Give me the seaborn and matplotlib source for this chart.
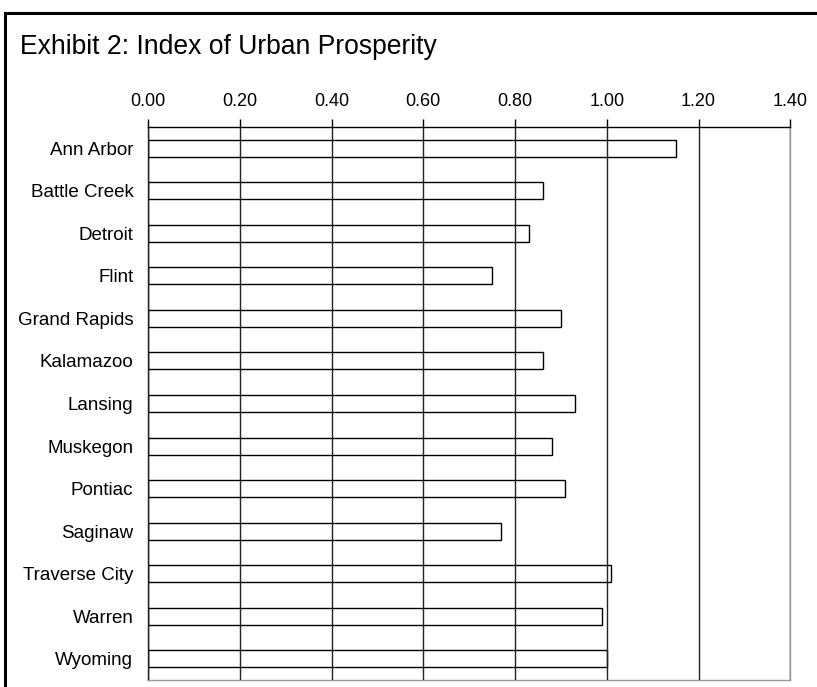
import matplotlib

matplotlib.use("Agg")

import matplotlib.pyplot as plt
import matplotlib.patches as patches
import numpy as np
import seaborn as sns

# values
CITIES = [
    "Ann Arbor",
    "Battle Creek",
    "Detroit",
    "Flint",
    "Grand Rapids",
    "Kalamazoo",
    "Lansing",
    "Muskegon",
    "Pontiac",
    "Saginaw",
    "Traverse City",
    "Warren",
    "Wyoming",
]
INDEX_VALUES = [1.15, 0.86, 0.83, 0.75, 0.90, 0.86, 0.93, 0.88, 0.91, 0.77, 1.01, 0.99, 1.00]
X_TICKS = [0.0, 0.2, 0.4, 0.6, 0.8, 1.0, 1.2, 1.4]
TITLE = "Exhibit 2: Index of Urban Prosperity"

sns.set_style("white")
plt.rcParams["font.family"] = ["Liberation Sans", "DejaVu Sans"]
plt.rcParams["text.color"] = "black"
plt.rcParams["xtick.color"] = "black"
plt.rcParams["ytick.color"] = "black"

fig = plt.figure(figsize=(8.17, 6.87), dpi=100)
ax = fig.add_axes([148 / 817, 1 - 680 / 687, (790.3 - 148) / 817, (680 - 127) / 687])

sns.barplot(
    x=INDEX_VALUES,
    y=CITIES,
    orient="h",
    color="white",
    saturation=1,
    edgecolor="black",
    linewidth=1,
    width=0.4,
    ax=ax,
)

ax.set_xlim(0, 1.4)
ax.set_ylim(len(CITIES) - 0.5, -0.5)

# x axis on top, gridlines drawn over the bars
ax.xaxis.tick_top()
ax.set_xticks(X_TICKS)
ax.set_xticklabels([f"{t:.2f}" for t in X_TICKS], fontsize=13)
ax.tick_params(axis="x", which="major", direction="out", length=6, width=1,
               color="black", labelcolor="black", pad=6.5)
ax.xaxis.grid(True, color="#222222", linewidth=1)
ax.yaxis.grid(False)
ax.set_axisbelow(False)

# category ticks sit between bars
ax.set_yticks(np.arange(-0.5, len(CITIES), 1), minor=True)
ax.tick_params(axis="y", which="minor", direction="out", length=7, width=1, color="black")
ax.tick_params(axis="y", which="major", length=0, pad=10.5, labelsize=13.5,
               labelcolor="black")
ax.set_xlabel("")
ax.set_ylabel("")

for side in ["top", "left"]:
    ax.spines[side].set_color("black")
    ax.spines[side].set_linewidth(1)
for side in ["right", "bottom"]:
    ax.spines[side].set_color("#999999")
    ax.spines[side].set_linewidth(1)

fig.text(20 / 817, 1 - 47 / 687, TITLE, fontsize=19.1, ha="left", va="center",
         color="black")

# thick frame round the exhibit (cut off at right and bottom)
frame = patches.Rectangle(
    (4.5 / 817, -0.1), 1.2, 1 - 12.5 / 687 + 0.1,
    transform=fig.transFigure, fill=False, edgecolor="black", linewidth=2.2,
    clip_on=False,
)
fig.patches.append(frame)

fig.savefig("out.png", dpi=100)
plt.close("all")
